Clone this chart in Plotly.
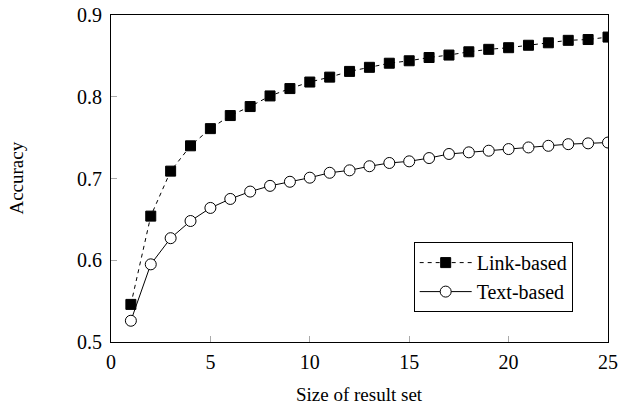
import plotly.graph_objects as go

sizes = list(range(1, 26))
link_based = [0.546, 0.654, 0.709, 0.740, 0.761, 0.777, 0.788, 0.801, 0.810, 0.818,
              0.824, 0.831, 0.836, 0.841, 0.844, 0.848, 0.851, 0.855, 0.858, 0.860,
              0.863, 0.866, 0.869, 0.870, 0.873]
text_based = [0.526, 0.595, 0.627, 0.648, 0.664, 0.675, 0.684, 0.691, 0.696, 0.701,
              0.707, 0.710, 0.715, 0.719, 0.721, 0.725, 0.730, 0.732, 0.734, 0.736,
              0.738, 0.740, 0.742, 0.743, 0.744]
x_ticks = [0, 5, 10, 15, 20, 25]
y_ticks = [0.5, 0.6, 0.7, 0.8, 0.9]
x_title = "Size of result set"
y_title = "Accuracy"

FONT = "Liberation Serif, Times New Roman, serif"

fig = go.Figure()
fig.add_trace(go.Scatter(
    x=sizes, y=link_based, name="Link-based", mode="lines+markers",
    line=dict(color="black", width=1, dash="4px,4px"),
    marker=dict(symbol="square", size=10, color="black", line=dict(color="black", width=1)),
))
fig.add_trace(go.Scatter(
    x=sizes, y=text_based, name="Text-based", mode="lines+markers",
    line=dict(color="black", width=1),
    marker=dict(symbol="circle", size=11, color="white", line=dict(color="black", width=1)),
))

axis_common = dict(
    showgrid=False, zeroline=False, showline=True, linecolor="black", linewidth=1,
    mirror=True, ticks="inside", ticklen=6, tickcolor="#aaaaaa", tickwidth=1,
    tickfont=dict(family=FONT, size=20, color="black"), automargin=False,
    ticklabeloverflow="allow",
)
fig.update_xaxes(range=[0, 25], tickvals=x_ticks, ticktext=[str(v) for v in x_ticks],
                 ticklabelstandoff=2, **axis_common)
fig.update_yaxes(range=[0.5, 0.9], tickvals=y_ticks, ticktext=[f"{v:.1f}" for v in y_ticks],
                 ticklabelstandoff=4, **axis_common)

fig.add_annotation(text=x_title, xref="paper", yref="paper", x=0.5, y=-0.161,
                   xanchor="center", yanchor="middle", showarrow=False,
                   font=dict(family=FONT, size=19, color="black"))
fig.add_annotation(text=y_title, xref="paper", yref="paper", x=-0.191, y=0.5,
                   xanchor="center", yanchor="middle", showarrow=False, textangle=-90,
                   font=dict(family=FONT, size=19, color="black"))

fig.update_layout(
    width=621, height=410,
    margin=dict(l=111, r=13, t=15, b=68),
    plot_bgcolor="white", paper_bgcolor="white",
    font=dict(family=FONT, size=20, color="black"),
    legend=dict(x=0.609, y=0.3055, xanchor="left", yanchor="top",
                bordercolor="black", borderwidth=1, bgcolor="white",
                font=dict(family=FONT, size=20, color="black"),
                itemwidth=52, tracegroupgap=0),
    showlegend=True,
)

# remove the page's default body margin so the 621x410 figure fills the window exactly
fig.write_html("out.html", config={"displayModeBar": False},
               post_script="document.body.style.margin='0px';")
